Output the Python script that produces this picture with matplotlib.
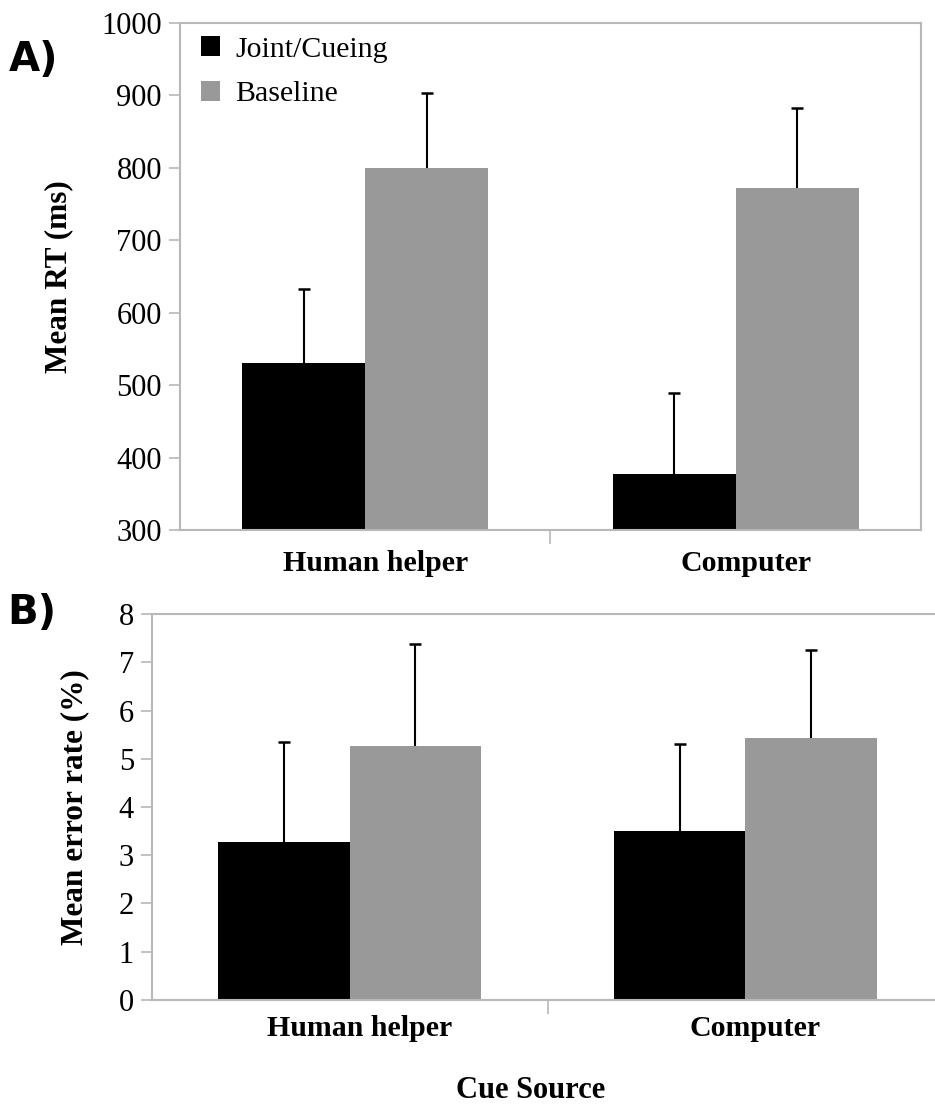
import numpy as np
import matplotlib.pyplot as plt
from matplotlib.transforms import ScaledTranslation

plt.rcParams['font.family'] = ['Liberation Serif', 'DejaVu Serif']

# group means and upper error bars
sources = ['Human helper', 'Computer']
series = ['Joint/Cueing', 'Baseline']

rt_joint = [530, 378]
rt_baseline = [800, 772]
rt_joint_err = [103, 111]
rt_baseline_err = [104, 111]

err_joint = [3.27, 3.51]
err_baseline = [5.27, 5.44]
err_joint_err = [2.08, 1.80]
err_baseline_err = [2.10, 1.81]

colors = ['#000000', '#999999']
axis_grey = '#b8b8b8'

fig = plt.figure(figsize=(9.35, 11.07), dpi=100)
axA = fig.add_axes([0.1925, 0.5212, 0.7925, 0.458])
axB = fig.add_axes([0.1626, 0.0967, 0.846, 0.3486])

x = np.arange(len(sources))
w = 0.332


def draw(ax, joint, base, jerr, berr, ylim, yticks):
    ax.bar(x - w / 2, joint, w, color=colors[0], label=series[0], zorder=2)
    ax.bar(x + w / 2, base, w, color=colors[1], label=series[1], zorder=2)
    # one-sided (upper) error bars
    for xs, vals, errs in [(x - w / 2, joint, jerr), (x + w / 2, base, berr)]:
        tops = np.array(vals) + np.array(errs)
        ax.vlines(xs, vals, tops, color='black', lw=1.5, zorder=3)
        ax.plot(xs, tops, ls='none', marker='_', ms=9, mew=1.8, color='black', zorder=3)
    ax.set_xlim(-0.5, 1.5)
    ax.set_ylim(*ylim)
    ax.set_yticks(yticks)
    ax.set_xticks([0.5])
    ax.set_xticklabels([])
    ax.tick_params(axis='x', length=10, color=axis_grey, width=1.2)
    ax.tick_params(axis='y', length=8, color=axis_grey, width=1.2, labelsize=22, pad=5)
    for s in ax.spines.values():
        s.set_color(axis_grey)
        s.set_linewidth(1.5)
    shift = ax.get_xaxis_transform() + ScaledTranslation(0.1, 0, fig.dpi_scale_trans)
    for i, name in enumerate(sources):
        ax.text(i, -0.04, name, transform=shift, ha='center', va='top',
                fontsize=21.5, fontweight='bold')


draw(axA, rt_joint, rt_baseline, rt_joint_err, rt_baseline_err, (300, 1000), range(300, 1001, 100))
axA.set_ylabel('Mean RT (ms)', fontsize=22.5, fontweight='bold', labelpad=20)
axA.legend(loc='upper left', frameon=False, fontsize=21.5, handlelength=0.65, handleheight=0.65,
           handletextpad=0.5, labelspacing=0.6, borderaxespad=0.3, bbox_to_anchor=(0.0, 1.015))

draw(axB, err_joint, err_baseline, err_joint_err, err_baseline_err, (0, 8), range(0, 9))
axB.set_ylabel('Mean error rate (%)', fontsize=22.5, fontweight='bold', labelpad=21)

fig.text(0.036, 0.946, 'A)', fontsize=29, fontweight='bold', family='DejaVu Sans', ha='center', va='center')
fig.text(0.034, 0.446, 'B)', fontsize=29, fontweight='bold', family='DejaVu Sans', ha='center', va='center')
fig.text(0.567, 0.015, 'Cue Source', fontsize=22, fontweight='bold', ha='center', va='center')

fig.savefig('out.png', dpi=100)
